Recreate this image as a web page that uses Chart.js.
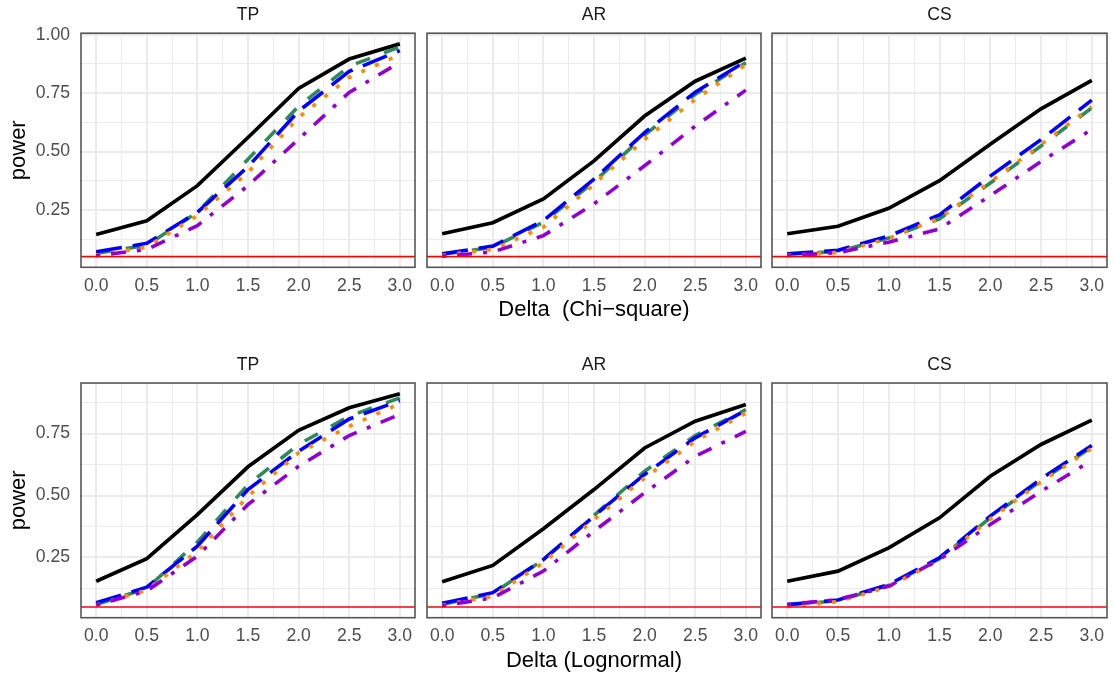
<!DOCTYPE html>
<html lang="en">
<head>
<meta charset="UTF-8">
<title>Power curves</title>
<script src="https://cdn.jsdelivr.net/npm/chart.js"></script>
<style>
    html, body { margin: 0; padding: 0; background: #ffffff; overflow: hidden; }
    #figure { position: relative; width: 1114px; height: 680px; }
    #figure canvas { position: absolute; }
</style>
</head>
<body>
<div id="figure"></div>

<script>
    // ---- data ----
    const deltas = [0, 0.5, 1.0, 1.5, 2.0, 2.5, 3.0];
    const facets = ['TP', 'AR', 'CS'];
    const methodLabels = ['method 1', 'method 2', 'method 3', 'method 4', 'method 5'];
    const nominalLevel = 0.05;

    const xTicks = [0, 0.25, 0.5, 0.75, 1, 1.25, 1.5, 1.75, 2, 2.25, 2.5, 2.75, 3];
    const yTicksTop = [0.125, 0.25, 0.375, 0.5, 0.625, 0.75, 0.875, 1];
    const yTicksBottom = [0.125, 0.25, 0.375, 0.5, 0.625, 0.75, 0.875];

    // rows of each panel: solid, long dash, dashed, dotted, dot-dash
    const chiTP = [
        [0.145, 0.204, 0.354, 0.560, 0.770, 0.896, 0.961],
        [0.071, 0.107, 0.240, 0.435, 0.673, 0.843, 0.932],
        [0.064, 0.099, 0.240, 0.467, 0.694, 0.865, 0.948],
        [0.055, 0.091, 0.226, 0.410, 0.646, 0.817, 0.915],
        [0.054, 0.081, 0.183, 0.354, 0.553, 0.753, 0.882]
    ];
    const chiAR = [
        [0.148, 0.195, 0.297, 0.460, 0.652, 0.801, 0.900],
        [0.062, 0.095, 0.204, 0.382, 0.581, 0.754, 0.886],
        [0.060, 0.090, 0.198, 0.370, 0.570, 0.745, 0.880],
        [0.055, 0.081, 0.176, 0.360, 0.552, 0.723, 0.872],
        [0.052, 0.070, 0.140, 0.276, 0.439, 0.609, 0.763]
    ];
    const chiCS = [
        [0.148, 0.180, 0.257, 0.375, 0.531, 0.683, 0.805],
        [0.062, 0.077, 0.138, 0.229, 0.395, 0.551, 0.720],
        [0.060, 0.072, 0.130, 0.212, 0.365, 0.524, 0.687],
        [0.055, 0.068, 0.128, 0.215, 0.370, 0.530, 0.692],
        [0.055, 0.067, 0.112, 0.169, 0.311, 0.457, 0.595]
    ];
    const logTP = [
        [0.154, 0.245, 0.423, 0.616, 0.763, 0.854, 0.911],
        [0.067, 0.130, 0.296, 0.524, 0.679, 0.809, 0.883],
        [0.060, 0.125, 0.312, 0.544, 0.706, 0.820, 0.894],
        [0.058, 0.118, 0.275, 0.497, 0.672, 0.779, 0.871],
        [0.058, 0.115, 0.255, 0.464, 0.618, 0.742, 0.827]
    ];
    const logAR = [
        [0.152, 0.218, 0.366, 0.524, 0.692, 0.800, 0.867],
        [0.065, 0.108, 0.242, 0.417, 0.585, 0.733, 0.844],
        [0.060, 0.105, 0.240, 0.420, 0.598, 0.742, 0.847],
        [0.057, 0.094, 0.229, 0.403, 0.571, 0.719, 0.833],
        [0.055, 0.087, 0.195, 0.356, 0.511, 0.658, 0.759]
    ];
    const logCS = [
        [0.154, 0.195, 0.289, 0.410, 0.578, 0.706, 0.804],
        [0.060, 0.078, 0.141, 0.249, 0.417, 0.567, 0.702],
        [0.058, 0.075, 0.138, 0.245, 0.410, 0.560, 0.695],
        [0.052, 0.072, 0.132, 0.240, 0.405, 0.555, 0.690],
        [0.060, 0.080, 0.134, 0.242, 0.383, 0.517, 0.642]
    ];

    // ---- styles ----
    const lineColors = ['#000000', '#0000FF', '#2E8B57', '#FF8C00', '#9400D3'];
    const lineDashes = [[], [26, 11], [15, 15], [4, 11], [4, 11, 15, 11]];
    const lineWidths = [3.7, 3.6, 3.6, 3.8, 3.6];
    const drawOrder = [6, 4, 5, 3, 2]; // larger = further back, red line is 1

    Chart.defaults.font.family = '"Liberation Sans", Arial, sans-serif';

    const rows = [
        { top: 0, height: 330, stripPad: { top: 4.4, bottom: 7.7 }, axisHeight: 62.7,
          xTitle: 'Delta  (Chi\u2212square)', xTitlePad: 7, yTicks: yTicksTop, panels: [chiTP, chiAR, chiCS] },
        { top: 330, height: 350, stripPad: { top: 24.4, bottom: 7.5 }, axisHeight: 62.3,
          xTitle: 'Delta (Lognormal)', xTitlePad: 6, yTicks: yTicksBottom, panels: [logTP, logAR, logCS] }
    ];
    const cols = [
        { left: 0, width: 423, yAxisWidth: 81, padRight: 8 },
        { left: 407, width: 362, yAxisWidth: 20, padRight: 8 },
        { left: 752, width: 362, yAxisWidth: 20, padRight: 7 }
    ];

    const xPad = (Math.max(...deltas) - Math.min(...deltas)) * 0.05;
    const xMin = Math.min(...deltas) - xPad;
    const xMax = Math.max(...deltas) + xPad;

    function rowRange(panels) {
        const all = panels.flat(2).concat(nominalLevel);
        const lo = Math.min(...all), hi = Math.max(...all);
        const pad = (hi - lo) * 0.05;
        return [lo - pad, hi + pad];
    }

    function onStep(v, step) {
        return Math.abs(v / step - Math.round(v / step)) < 1e-6;
    }

    const panelBorder = {
        id: 'panelBorder',
        afterDatasetsDraw(chart) {
            const { ctx, chartArea: a } = chart;
            ctx.save();
            ctx.strokeStyle = '#555555';
            ctx.lineWidth = 1.6;
            ctx.strokeRect(a.left, a.top, a.right - a.left, a.bottom - a.top);
            ctx.restore();
        }
    };

    function panelDatasets(series) {
        const sets = series.map((vals, k) => ({
            label: methodLabels[k],
            data: deltas.map((d, i) => ({ x: d, y: vals[i] })),
            borderColor: lineColors[k],
            borderWidth: lineWidths[k],
            borderDash: lineDashes[k],
            order: drawOrder[k],
            pointRadius: 0,
            tension: 0,
            fill: false
        }));
        sets.push({
            label: 'nominal level',
            data: [{ x: xMin, y: nominalLevel }, { x: xMax, y: nominalLevel }],
            borderColor: '#FF0000',
            borderWidth: 1.6,
            order: 1,
            pointRadius: 0,
            fill: false
        });
        return sets;
    }

    const figure = document.getElementById('figure');

    rows.forEach((row, r) => {
        const [yMin, yMax] = rowRange(row.panels);
        row.panels.forEach((series, c) => {
            const col = cols[c];
            const canvas = document.createElement('canvas');
            canvas.width = col.width;
            canvas.height = row.height;
            canvas.style.left = col.left + 'px';
            canvas.style.top = row.top + 'px';
            figure.appendChild(canvas);

            new Chart(canvas, {
                type: 'line',
                data: { datasets: panelDatasets(series) },
                options: {
                    responsive: false,
                    animation: false,
                    events: [],
                    layout: { padding: { top: 0, left: 0, bottom: 0, right: col.padRight } },
                    plugins: {
                        legend: { display: false },
                        tooltip: { enabled: false },
                        title: {
                            display: true,
                            text: facets[c],
                            fullSize: false,
                            color: '#1A1A1A',
                            font: { size: 17.6, weight: 'normal' },
                            padding: row.stripPad
                        }
                    },
                    scales: {
                        x: {
                            type: 'linear',
                            min: xMin,
                            max: xMax,
                            afterBuildTicks: s => { s.ticks = xTicks.map(v => ({ value: v })); },
                            afterFit: s => { s.height = row.axisHeight; },
                            border: { display: false },
                            grid: {
                                color: '#EBEBEB',
                                drawTicks: false,
                                lineWidth: ctx => (ctx.tick && onStep(ctx.tick.value, 0.5)) ? 2 : 1
                            },
                            ticks: {
                                autoSkip: false,
                                maxRotation: 0,
                                padding: 8.3,
                                color: '#4D4D4D',
                                font: { size: 17.6 },
                                callback: v => onStep(v, 0.5) ? v.toFixed(1) : ''
                            },
                            title: {
                                display: c === 1,
                                text: row.xTitle,
                                color: '#000000',
                                font: { size: 22 },
                                padding: { top: 0, bottom: row.xTitlePad }
                            }
                        },
                        y: {
                            type: 'linear',
                            min: yMin,
                            max: yMax,
                            afterBuildTicks: s => { s.ticks = row.yTicks.map(v => ({ value: v })); },
                            afterFit: s => { s.width = col.yAxisWidth; },
                            border: { display: false },
                            grid: {
                                color: '#EBEBEB',
                                drawTicks: false,
                                lineWidth: ctx => (ctx.tick && onStep(ctx.tick.value, 0.25)) ? 2 : 1
                            },
                            ticks: {
                                display: c === 0,
                                autoSkip: false,
                                padding: 11,
                                color: '#4D4D4D',
                                font: { size: 17.6 },
                                callback: v => onStep(v, 0.25) ? v.toFixed(2) : ''
                            },
                            title: {
                                display: c === 0,
                                text: 'power',
                                color: '#000000',
                                font: { size: 22 },
                                padding: { top: 6, bottom: 0 }
                            }
                        }
                    }
                },
                plugins: [panelBorder]
            });
        });
    });
</script>
</body>
</html>
